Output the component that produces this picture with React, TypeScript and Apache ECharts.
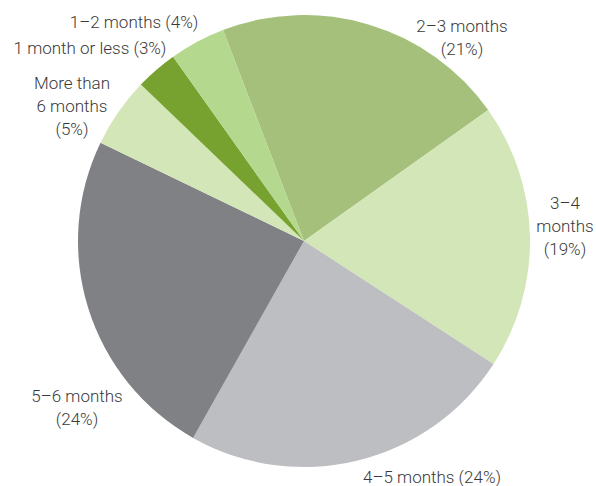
import React, { useEffect, useRef } from "react";
import * as echarts from "echarts";

const categories = [
  "2–3 months",
  "3–4\nmonths",
  "4–5 months",
  "5–6 months",
  "More than\n6 months",
  "1 month or less",
  "1–2 months",
];
const shares = [21, 19, 24, 24, 5, 3, 4];
const percentLabels = ["(21%)", "(19%)", "(24%)", "(24%)", "(5%)", "(3%)", "(4%)"];
const labelBreaks = ["\n", "\n", " ", "\n", "\n", " ", " "];
const colors = ["#a5c07a", "#d3e6b8", "#bdbec1", "#808185", "#d3e6b8", "#78a22f", "#b4d88e"];

// label anchor positions (layout only)
const labelAnchors: [number, number][] = [
  [462, 37],
  [565, 226],
  [432, 477],
  [77, 407],
  [72, 106],
  [90, 48],
  [134, 22],
];

export default function App() {
  const ref = useRef<HTMLDivElement>(null);
  useEffect(() => {
    if (!ref.current) return;
    const chart = echarts.init(ref.current, undefined, { renderer: "svg" });
    chart.setOption({
      animation: false,
      backgroundColor: "#ffffff",
      series: [
        {
          type: "pie",
          center: [304, 241],
          radius: 226,
          startAngle: 111,
          clockwise: true,
          avoidLabelOverlap: false,
          data: categories.map((c, i) => ({
            name: c,
            value: shares[i],
            itemStyle: { color: colors[i] },
            label: { formatter: c + labelBreaks[i] + percentLabels[i] },
          })),
          itemStyle: { borderWidth: 0 },
          emphasis: { disabled: true },
          label: {
            show: true,
            position: "outside",
            fontFamily: "Roboto",
            fontWeight: 300,
            fontSize: 17,
            lineHeight: 23,
            color: "#3a3a3a",
            align: "center",
          },
          labelLine: { show: false },
          labelLayout: (params: any) => {
            const p = labelAnchors[params.dataIndex];
            return { x: p[0], y: p[1], align: "center", verticalAlign: "middle" };
          },
        },
      ],
    });
    return () => chart.dispose();
  }, []);
  return (
    <div
      ref={ref}
      style={{ position: "fixed", left: 0, top: 0, width: 596, height: 486 }}
    />
  );
}
